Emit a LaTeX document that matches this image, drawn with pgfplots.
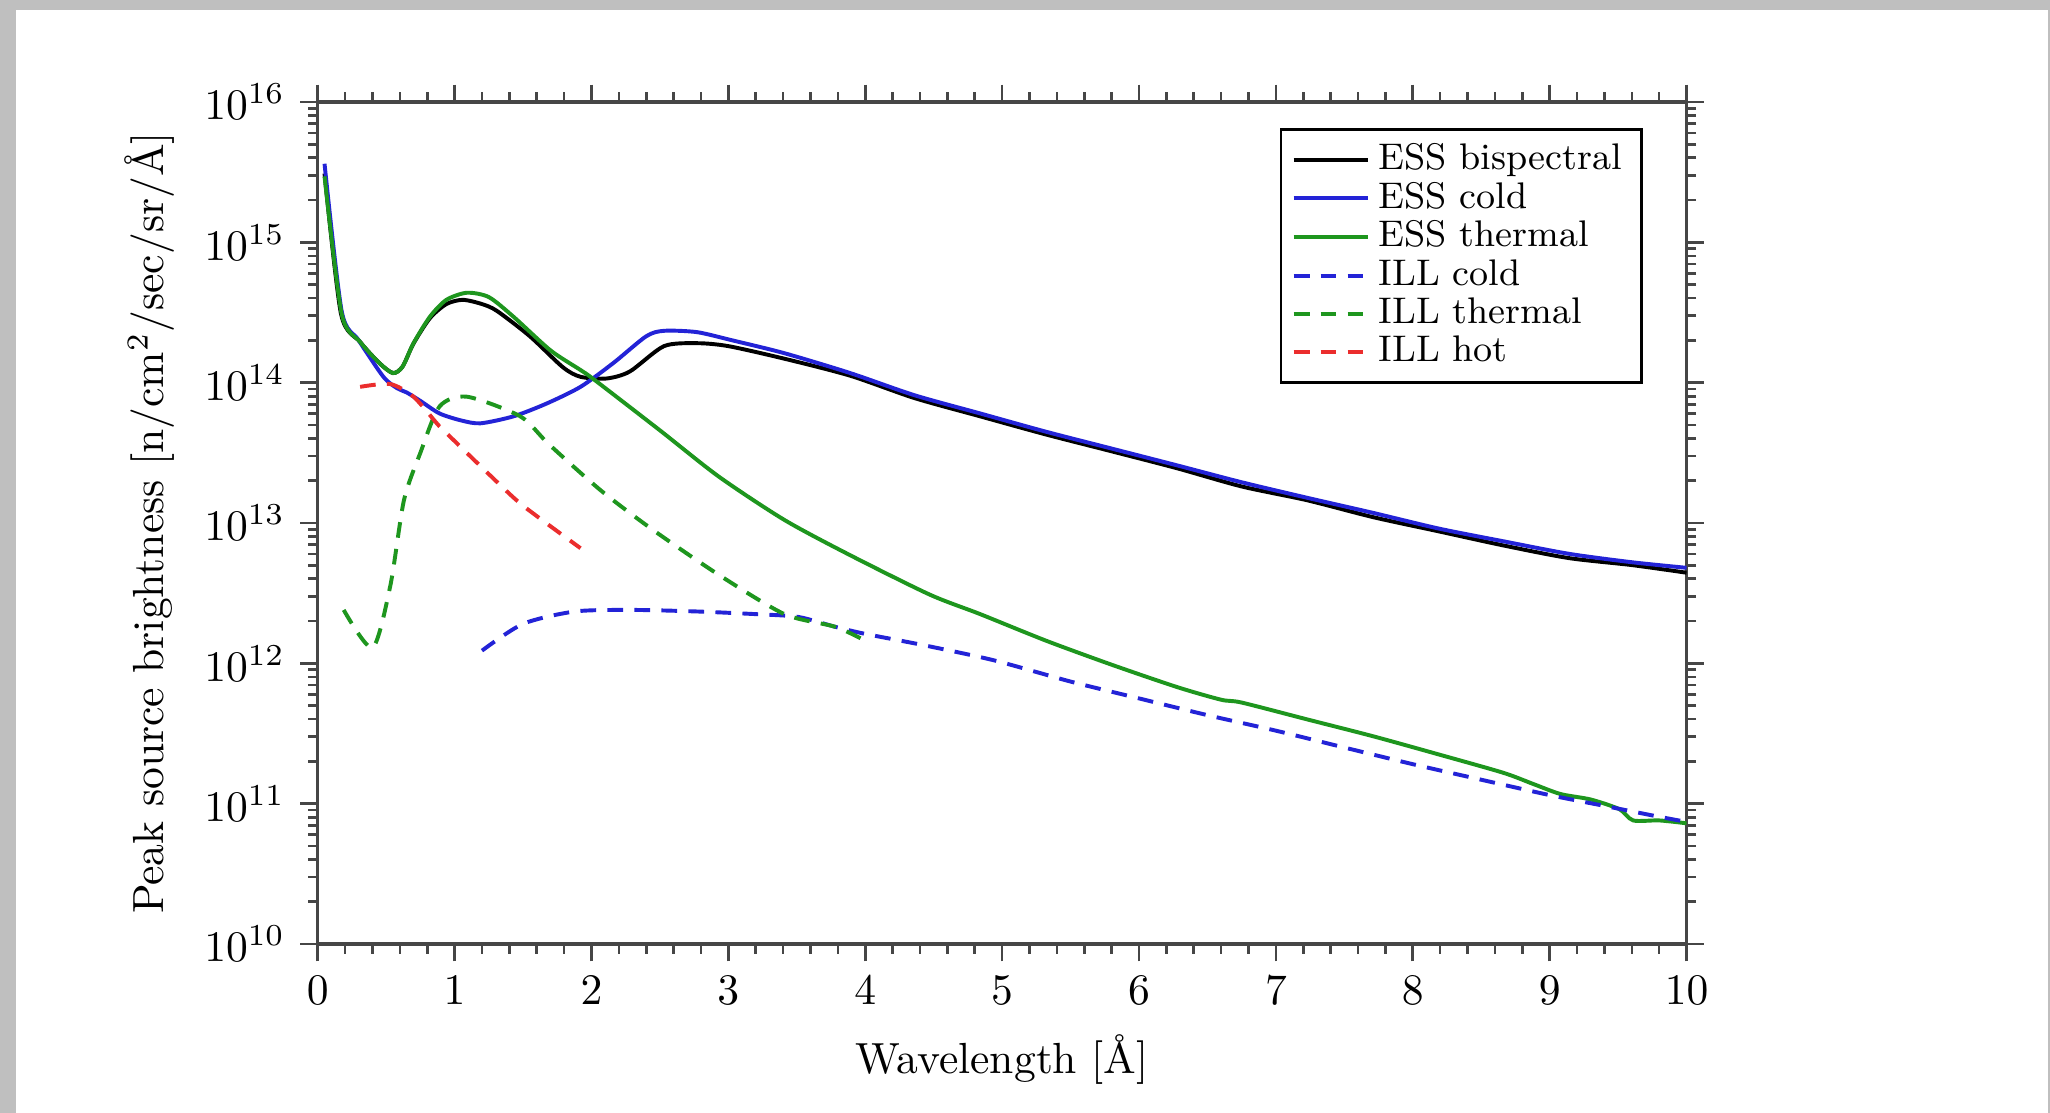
\documentclass[border=0pt]{standalone}
\usepackage{pgfplots}
\pgfplotsset{compat=1.18}
\definecolor{essblue}{RGB}{35,35,215}
\definecolor{essgreen}{RGB}{30,150,30}
\definecolor{illred}{RGB}{235,45,45}
\definecolor{axgray}{RGB}{70,70,70}
\begin{document}
\begin{tikzpicture}
\fill[gray!50] (-72.9pt,-38.7pt) rectangle (397.5pt,216.6pt);
\fill[white] (-69.3pt,-38.7pt) rectangle (397.0pt,214.3pt);
\begin{axis}[
  scale only axis,
  width=314.1pt, height=193.2pt,
  xmin=0, xmax=10, ymin=1e10, ymax=1e16,
  ymode=log,
  xtick={0,1,...,10},
  minor x tick num=4,
  tick align=outside,
  tick pos=both,
  axis line style={axgray, line width=0.8pt},
  every tick/.style={axgray, line width=0.6pt},
  major tick length=4pt, minor tick length=2.2pt,
  xlabel={Wavelength [\AA]},
  ylabel={Peak source brightness [n/cm$^2$/sec/sr/\AA]},
  legend style={at={(0.968,0.969)}, anchor=north east, draw=black, line width=0.6pt,
    font=\fontsize{8.5}{9}\selectfont, row sep=-2.6pt, inner xsep=2.5pt, inner ysep=1.2pt},
  legend cell align=left,
  every axis plot/.append style={line width=0.9pt, smooth, tension=0.45},
]
% ESS bispectral
\addplot[black] coordinates {
(0.05,3.09e15) (0.17,3.1e14) (0.31,1.95e14) (0.45,1.38e14) (0.55,1.17e14) (0.62,1.30e14) (0.70,1.90e14) (0.82,2.88e14) (0.94,3.63e14) (1.06,3.89e14) (1.2,3.63e14) (1.31,3.24e14) (1.55,2.14e14) (1.79,1.29e14) (1.92,1.10e14) (2.11,1.07e14) (2.28,1.20e14) (2.53,1.82e14) (2.77,1.91e14) (3.0,1.82e14) (3.41,1.48e14) (3.89,1.12e14) (4.36,7.76e13) (4.84,5.75e13) (5.32,4.27e13) (5.8,3.24e13) (6.28,2.45e13) (6.75,1.82e13) (7.23,1.45e13) (7.71,1.10e13) (8.19,8.71e12) (8.66,6.92e12) (9.14,5.62e12) (9.6,5.01e12) (10,4.42e12)
};
% ESS cold
\addplot[essblue] coordinates {
(0.05,3.63e15) (0.175,3.24e14) (0.30,2.00e14) (0.48,1.10e14) (0.58,9.12e13) (0.65,8.51e13) (0.75,7.41e13) (0.89,6.03e13) (1.05,5.37e13) (1.19,5.13e13) (1.43,5.75e13) (1.67,7.08e13) (1.92,9.33e13) (2.16,1.38e14) (2.40,2.14e14) (2.53,2.34e14) (2.77,2.29e14) (3.03,2.00e14) (3.41,1.62e14) (3.89,1.17e14) (4.36,8.13e13) (4.84,6.03e13) (5.32,4.47e13) (5.8,3.39e13) (6.28,2.57e13) (6.75,1.95e13) (7.23,1.51e13) (7.71,1.18e13) (8.19,9.12e12) (8.66,7.41e12) (9.14,6.03e12) (9.6,5.25e12) (10,4.79e12)
};
% ESS thermal
\addplot[essgreen] coordinates {
(0.05,2.95e15) (0.175,3.09e14) (0.31,1.95e14) (0.45,1.38e14) (0.55,1.17e14) (0.62,1.30e14) (0.70,1.91e14) (0.82,2.95e14) (0.94,3.89e14) (1.09,4.37e14) (1.25,4.07e14) (1.43,2.95e14) (1.7,1.70e14) (1.92,1.23e14) (2.02,1.05e14) (2.5,4.57e13) (2.93,2.14e13) (3.41,1.05e13) (3.89,5.89e12) (4.47,3.09e12) (4.84,2.24e12) (5.32,1.45e12) (5.8,9.77e11) (6.28,6.76e11) (6.6,5.50e11) (6.75,5.25e11) (7.23,3.98e11) (7.71,3.02e11) (8.19,2.24e11) (8.66,1.66e11) (8.88,1.38e11) (9.08,1.17e11) (9.3,1.07e11) (9.51,9.12e10) (9.61,7.59e10) (9.8,7.59e10) (10,7.24e10)
};
% ILL cold
\addplot[essblue, dash pattern=on 3.6pt off 2.6pt] coordinates {
(1.20,1.23e12) (1.5,1.91e12) (1.88,2.34e12) (2.3,2.40e12) (2.77,2.34e12) (3.2,2.24e12) (3.51,2.14e12) (3.78,1.82e12) (4.0,1.62e12) (4.42,1.35e12) (4.94,1.05e12) (5.5,7.41e11) (6.0,5.62e11) (6.5,4.27e11) (7.0,3.31e11) (7.5,2.51e11) (8.0,1.91e11) (8.5,1.48e11) (9.0,1.15e11) (9.42,9.55e10) (9.78,8.13e10) (10,7.41e10)
};
% ILL thermal
\addplot[essgreen, dash pattern=on 3.6pt off 2.6pt] coordinates {
(0.19,2.40e12) (0.40,1.29e12) (0.53,3.55e12) (0.63,1.45e13) (0.75,3.16e13) (0.89,6.76e13) (1.09,7.94e13) (1.48,5.75e13) (1.69,3.63e13) (2.07,1.70e13) (2.45,8.91e12) (2.93,4.27e12) (3.41,2.24e12) (3.78,1.82e12) (4.0,1.45e12)
};
% ILL hot
\addplot[illred, dash pattern=on 3.6pt off 2.6pt] coordinates {
(0.31,9.33e13) (0.53,9.77e13) (0.70,7.94e13) (0.87,5.13e13) (0.94,4.37e13) (1.42,1.55e13) (1.6,1.12e13) (1.92,6.61e12)
};
\legend{ESS bispectral, ESS cold, ESS thermal, ILL cold, ILL thermal, ILL hot}
\end{axis}
\end{tikzpicture}
\end{document}
